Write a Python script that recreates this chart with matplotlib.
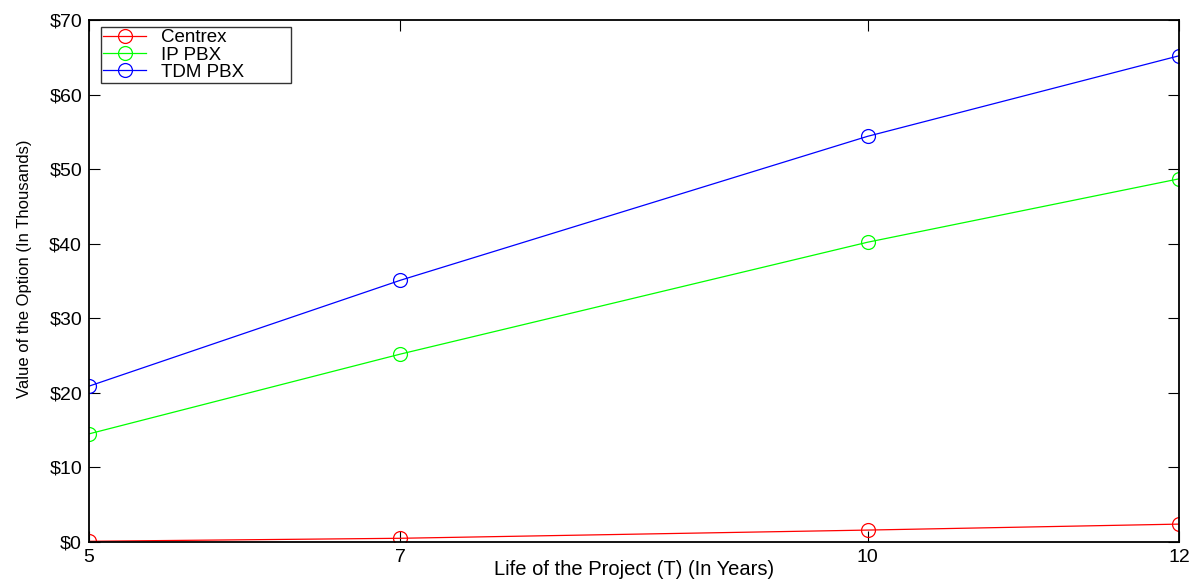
import matplotlib
matplotlib.use('Agg')
import matplotlib.pyplot as plt

plt.rcParams['font.family'] = ['Liberation Sans', 'DejaVu Sans']

years = [5, 7, 10, 12]
centrex = [0.1, 0.5, 1.6, 2.4]
ip_pbx = [14.5, 25.2, 40.2, 48.7]
tdm_pbx = [20.9, 35.1, 54.4, 65.2]

fig = plt.figure(figsize=(11.94, 5.8), dpi=100)
ax = fig.add_axes([0.0745, 0.0655, 0.9129, 0.9])

style = dict(marker='o', mfc='none', ms=10, lw=0.9, mew=0.9)
ax.plot(years, centrex, color='red', label='Centrex', **style)
ax.plot(years, ip_pbx, color='#00ff00', label='IP PBX', **style)
ax.plot(years, tdm_pbx, color='blue', label='TDM PBX', **style)

ax.set_xlim(5, 12)
ax.set_ylim(0, 70)
ax.set_xticks(years)
ax.set_yticks(range(0, 71, 10))
ax.set_yticklabels(['$%d' % v for v in range(0, 71, 10)])
ax.tick_params(direction='in', length=8, top=True, right=True, labelsize=14)
ax.tick_params(axis='y', pad=5)
ax.tick_params(axis='x', pad=5)
for s in ax.spines.values():
    s.set_linewidth(1.3)

ax.set_xlabel('Life of the Project (T) (In Years)', fontsize=14.5)
ax.xaxis.set_label_coords(0.5, -0.034)
ax.set_ylabel('Value of the Option (In Thousands)', fontsize=12)
ax.yaxis.set_label_coords(-0.052, 0.524)

leg = ax.legend(loc='upper left', bbox_to_anchor=(0.011, 0.5, 0.1743, 0.4866),
                mode='expand', fontsize=13.5, fancybox=False, edgecolor='black',
                borderpad=0.12, labelspacing=0.0, handlelength=2.3,
                borderaxespad=0.0, handletextpad=0.8)
leg.get_frame().set_linewidth(1.0)

fig.savefig('out.png', dpi=100)
